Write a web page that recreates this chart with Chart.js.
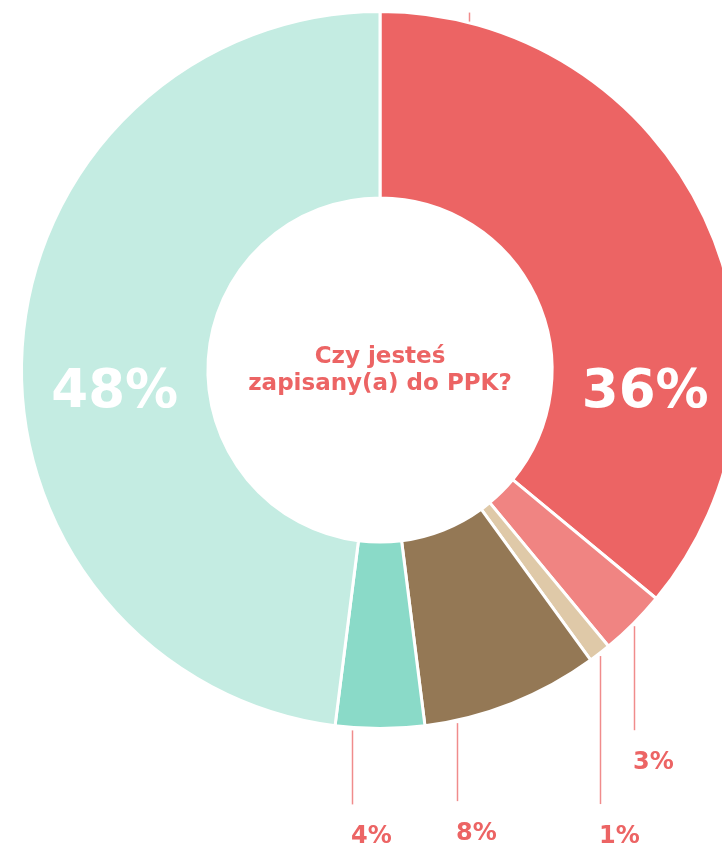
<!DOCTYPE html>
<html>
<head>
<meta charset="utf-8">
<script src="https://cdn.jsdelivr.net/npm/chart.js@4/dist/chart.umd.min.js"></script>
<style>
  html, body { margin: 0; padding: 0; background: #fff; overflow: hidden; }
  #wrap { width: 760px; height: 847px; }
</style>
</head>
<body>
<div id="wrap"><canvas id="myChart" width="760" height="847"></canvas></div>
<script>
// dane
const kategorie = ['Tak', 'Tak, ale zrezygnowałem(am)', 'Inne', 'Nie wiem', 'Nie, ale planuję', 'Nie'];
const wartosci = [36, 3, 1, 8, 4, 48];
const etykiety = ['36%', '3%', '1%', '8%', '4%', '48%'];
const kolory = ['#EC6464', '#F08482', '#DFC9A8', '#947855', '#8ADAC8', '#C4ECE2'];
// etykiety zewnętrzne: gdzie na łuku startuje linia (ułamek wycinka) i jak długa
const linieUlamek = [0.11, 0.5, 0.5, 0.82, 0.81, null];
const linieDlugosc = [-9, 106, 150, 80, 76, null];
const tytul = ['Czy jesteś', 'zapisany(a) do PPK?'];

const czerwony = '#EC6464';
const liniaKolor = '#F08C8C';

const etykietyPlugin = {
    id: 'etykiety',
    afterDatasetsDraw(chart) {
        const c = chart.ctx;
        const arcs = chart.getDatasetMeta(0).data;
        const cx = arcs[0].x, cy = arcs[0].y;
        c.save();

        // tytuł w środku
        c.fillStyle = czerwony;
        c.textAlign = 'center';
        c.textBaseline = 'alphabetic';
        c.font = 'bold 23px "DejaVu Sans"';
        c.fillText(tytul[0], cx, cy - 7);
        c.fillText(tytul[1], cx, cy + 20);

        for (let i = 0; i < arcs.length; i++) {
            const a = arcs[i];
            if (wartosci[i] >= 30) {
                // duże etykiety w pierścieniu, w poziomie środka
                const mid = (a.startAngle + a.endAngle) / 2;
                const r = (a.innerRadius + a.outerRadius) / 2;
                const strona = Math.cos(mid) >= 0 ? 1 : -1;
                c.fillStyle = '#ffffff';
                c.textAlign = 'center';
                c.font = 'bold 53px "DejaVu Sans"';
                c.fillText(etykiety[i], cx + strona * r, cy + 37);
            }
            if (linieUlamek[i] !== null) {
                const kat = a.startAngle + (a.endAngle - a.startAngle) * linieUlamek[i];
                const x = cx + Math.cos(kat) * (a.outerRadius + 1);
                const y = cy + Math.sin(kat) * (a.outerRadius + 1);
                const y2 = y + linieDlugosc[i];
                c.strokeStyle = liniaKolor;
                c.lineWidth = 1.5;
                c.beginPath();
                c.moveTo(Math.round(x) + 0.5, y + (linieDlugosc[i] < 0 ? 0 : 2));
                c.lineTo(Math.round(x) + 0.5, y2);
                c.stroke();
                if (linieDlugosc[i] > 0) {
                    c.fillStyle = czerwony;
                    c.textAlign = 'left';
                    c.font = 'bold 24px "DejaVu Sans"';
                    c.fillText(etykiety[i], Math.round(x) - 1, y2 + 39);
                }
            }
        }
        c.restore();
    }
};

const ctx = document.getElementById('myChart');
const chart = new Chart(ctx, {
    type: 'doughnut',
    data: {
        labels: kategorie,
        datasets: [{
            data: wartosci,
            backgroundColor: kolory,
            borderColor: '#ffffff',
            borderWidth: 3,
            hoverOffset: 0
        }]
    },
    options: {
        responsive: false,
        animation: false,
        cutout: '48%',
        layout: { padding: { top: 10, bottom: 117, left: 0, right: 0 } },
        plugins: {
            legend: { display: false },
            tooltip: { enabled: false }
        }
    },
    plugins: [etykietyPlugin]
});
</script>
</body>
</html>
